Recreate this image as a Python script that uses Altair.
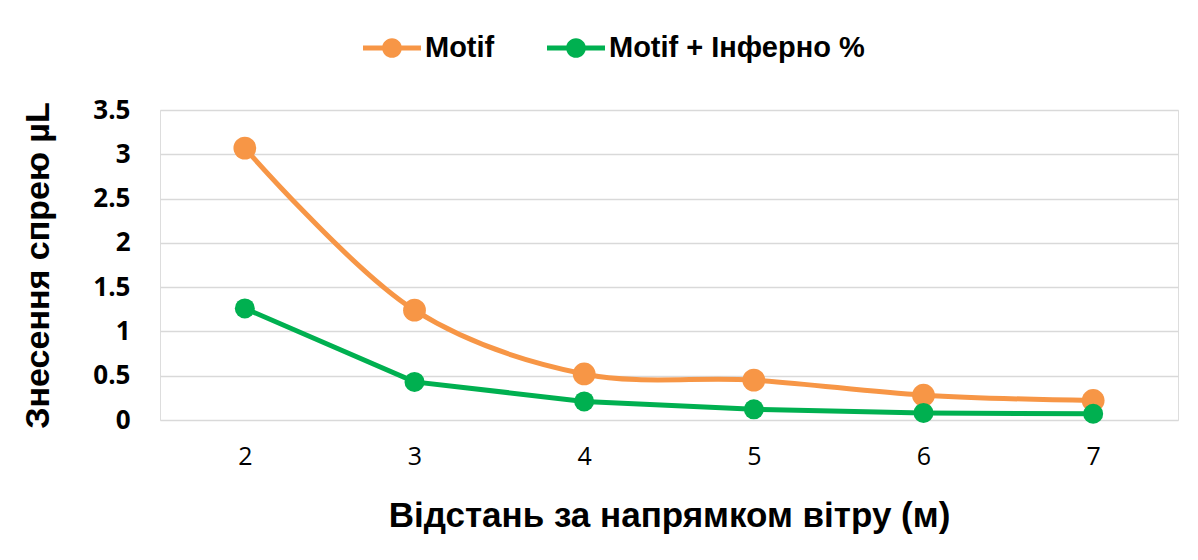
import altair as alt
import pandas as pd

distances = [2, 3, 4, 5, 6, 7]
motif = [3.07, 1.24, 0.52, 0.45, 0.28, 0.22]
motif_inferno = [1.26, 0.43, 0.21, 0.12, 0.08, 0.07]
series_names = ["Motif", "Motif + Інферно %"]
colors = ["#F79646", "#00B050"]

rows = []
for d, a, b in zip(distances, motif, motif_inferno):
    rows.append({"x": d, "y": a, "s": series_names[0]})
    rows.append({"x": d, "y": b, "s": series_names[1]})
df = pd.DataFrame(rows)

legend_path = ("M-1,-0.09 L-0.32,-0.09 L-0.32,0.09 L-1,0.09 Z "
               "M0.32,-0.09 L1,-0.09 L1,0.09 L0.32,0.09 Z "
               "M-0.34,0 A0.34,0.34 0 1,1 0.34,0 A0.34,0.34 0 1,1 -0.34,0 Z")

x_enc = alt.X("x:O", scale=alt.Scale(type="point", padding=0.5),
              axis=alt.Axis(title="Відстань за напрямком вітру (м)", labelAngle=0,
                            domain=False, ticks=False, labelPadding=24,
                            labelFontSize=25, labelFont="Open Sans", labelColor="#000",
                            titleFontSize=35, titleFont="Liberation Sans",
                            titleFontWeight="bold", titleColor="#000",
                            titleY=95, titleBaseline="middle"))
y_enc = alt.Y("y:Q", scale=alt.Scale(domain=[0, 3.5]),
              axis=alt.Axis(title="Знесення спрею µL", values=[0, 0.5, 1, 1.5, 2, 2.5, 3, 3.5],
                            format="~g", domain=False, ticks=False, labelPadding=30,
                            labelFontSize=26, labelFont="Open Sans", labelFontWeight="bold",
                            labelColor="#000", gridColor="#D9D9D9", gridWidth=1.5,
                            titleFontSize=34, titleFont="Liberation Sans",
                            titleFontWeight="bold", titleColor="#000",
                            titleX=-122, titleY=155, titleBaseline="middle",
                            titleAlign="center", titleAngle=-90))
color_enc = alt.Color("s:N", scale=alt.Scale(domain=series_names, range=colors),
                      sort=series_names,
                      legend=alt.Legend(title=None, orient="none", direction="horizontal",
                                        legendX=203, legendY=-91, symbolType=legend_path,
                                        symbolSize=3364, symbolStrokeWidth=0,
                                        symbolOpacity=1, labelLimit=600,
                                        labelFontSize=29, labelFont="Liberation Sans",
                                        labelFontWeight="bold", labelColor="#000",
                                        labelOffset=4, columnPadding=52, padding=0))

base = alt.Chart(df)
line_a = base.transform_filter(alt.datum.s == series_names[0]).mark_line(
    interpolate="catmull-rom", strokeWidth=5).encode(x=x_enc, y=y_enc, color=color_enc)
line_b = base.transform_filter(alt.datum.s == series_names[1]).mark_line(
    interpolate="linear", strokeWidth=5).encode(x=x_enc, y=y_enc, color=color_enc)
pts_a = base.transform_filter(alt.datum.s == series_names[0]).mark_circle(
    size=520, opacity=1).encode(x=x_enc, y=y_enc, color=color_enc)
pts_b = base.transform_filter(alt.datum.s == series_names[1]).mark_circle(
    size=400, opacity=1).encode(x=x_enc, y=y_enc, color=color_enc)

chart = alt.layer(line_a, line_b, pts_a, pts_b).properties(
    width=1018, height=310,
    autosize=alt.AutoSizeParams(type="none"),
    padding={"left": 152, "top": 102, "right": 12, "bottom": 130},
).configure_view(stroke=None).configure(background="white")

chart.save("out.html", embed_options={"renderer": "svg", "actions": False})
